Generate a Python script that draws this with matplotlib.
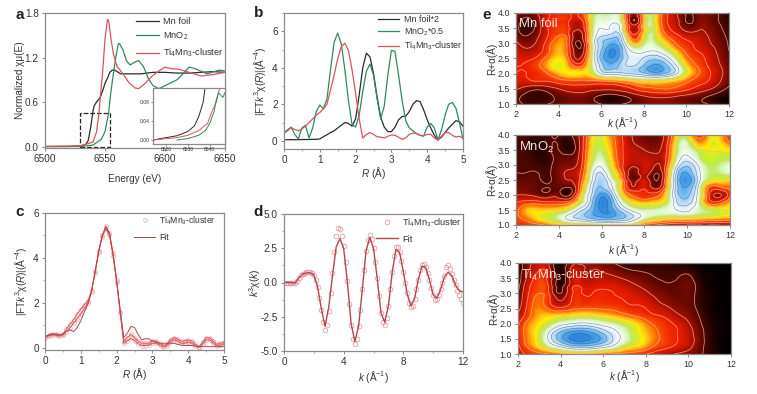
import numpy as np
import matplotlib
matplotlib.use("Agg")
import matplotlib.pyplot as plt
from matplotlib.colors import LinearSegmentedColormap
from matplotlib.patches import Rectangle
from matplotlib.ticker import MultipleLocator
from matplotlib.tri import Triangulation, UniformTriRefiner

plt.rcParams["font.family"] = ["Liberation Sans", "DejaVu Sans"]
plt.rcParams["mathtext.fontset"] = "custom"
plt.rcParams["mathtext.rm"] = "Liberation Sans"
plt.rcParams["mathtext.it"] = "Liberation Sans:italic"
plt.rcParams["mathtext.default"] = "regular"
plt.rcParams["font.size"] = 7.2

BLACK = "#2b2b2b"
GREEN = "#2f8a5c"
RED = "#d9545a"
SPINE = "#8a8a8a"
TEXT = "#333333"

# panel a
foil_e = [6500, 6520, 6530, 6534, 6536, 6538, 6540, 6541, 6543, 6546, 6548, 6550, 6552, 6554, 6556, 6558, 6560, 6563, 6570, 6580, 6590, 6600, 6610, 6620, 6630, 6640, 6650]
foil_mu = [0, 0, 0.01, 0.03, 0.08, 0.25, 0.48, 0.55, 0.60, 0.66, 0.75, 0.85, 0.92, 1.0, 1.03, 1.03, 1.01, 0.98, 0.98, 0.98, 1.0, 1.0, 0.99, 0.99, 1.0, 1.01, 1.0]
mno2_e = [6500, 6530, 6540, 6547, 6550, 6553, 6555, 6557, 6559, 6561, 6562, 6565, 6568, 6571, 6575, 6578, 6582, 6586, 6590, 6595, 6600, 6610, 6615, 6620, 6625, 6635, 6645, 6650]
mno2_mu = [0, 0, 0.02, 0.1, 0.2, 0.45, 0.75, 0.98, 1.2, 1.38, 1.39, 1.3, 1.15, 1.1, 1.14, 1.16, 1.08, 0.92, 0.82, 0.78, 0.82, 0.9, 0.98, 1.07, 1.05, 0.98, 1.03, 1.02]
ti_e = [6500, 6530, 6540, 6543, 6545, 6546, 6548, 6550, 6552, 6553, 6555, 6557, 6560, 6565, 6570, 6575, 6578, 6582, 6590, 6596, 6600, 6605, 6612, 6620, 6630, 6640, 6650]
ti_mu = [0, 0.01, 0.06, 0.2, 0.45, 0.65, 1.0, 1.45, 1.71, 1.7, 1.45, 1.25, 1.08, 0.98, 0.86, 0.79, 0.78, 0.83, 0.96, 1.03, 1.07, 1.05, 1.04, 1.0, 0.95, 0.97, 1.0]

# inset of panel a
ins_foil_e = [6514, 6520, 6525, 6530, 6533, 6535, 6537, 6538]
ins_foil_mu = [0, 0.005, 0.009, 0.018, 0.03, 0.05, 0.08, 0.115]
ins_ti_e = [6514, 6525, 6530, 6535, 6539, 6541, 6543, 6544, 6545]
ins_ti_mu = [0, 0.005, 0.01, 0.02, 0.035, 0.06, 0.08, 0.10, 0.115]
ins_mno2_e = [6525, 6530, 6535, 6538, 6540, 6542, 6543, 6544, 6545, 6546, 6547]
ins_mno2_mu = [0, 0.003, 0.01, 0.02, 0.035, 0.06, 0.085, 0.1, 0.095, 0.09, 0.1]

# panels b and c share this R grid
r_grid = np.arange(51) * 0.1
foil_ft = [.05, .06, .06, .06, .06, .07, .07, .07, .08, .08, .1, .22, .33, .45, .55, .7, .85, 1.0, .95, .8, 1.2, 2.5, 4.0, 4.8, 4.6, 3.7, 2.4, 1.3, .75, .5, .5, .75, 1.15, 1.33, 1.35, 1.6, 2.0, 2.2, 2.15, 1.7, 1.15, .7, .3, .05, .2, .45, .7, .9, 1.1, 1.05, .8]
mno2_ft = [.45, .6, .75, .35, .1, .7, .85, .15, .7, 1.6, 1.95, 1.75, 2.3, 3.9, 5.4, 5.9, 5.3, 3.9, 2.2, .9, .75, 1.4, 2.7, 3.8, 4.2, 3.6, 2.3, 1.2, 1.9, 3.6, 4.95, 4.9, 3.6, 2.2, 1.1, .7, .55, .4, .3, .25, .75, .95, .7, .05, .6, 1.4, 2.0, 2.1, 1.8, 1.0, .1]
ti_ft = [.4, .55, .72, .62, .55, .65, .8, 1.0, 1.2, 1.4, 1.55, 1.75, 2.0, 2.8, 3.6, 4.5, 5.15, 5.35, 4.95, 3.9, 2.6, 1.2, .15, .35, .45, .35, .22, .2, .15, .25, .32, .3, .2, .08, .15, .35, .42, .4, .3, .28, .35, .35, .15, .05, .25, .45, .45, .3, .2, .25, .15]

c_data = [.5, .58, .62, .62, .58, .6, .85, 1.05, 1.25, 1.5, 1.72, 1.92, 2.1, 2.55, 3.4, 4.3, 5.0, 5.4, 5.1, 4.2, 3.0, 1.6, .3, .45, .6, .45, .3, .2, .2, .2, .3, .3, .2, .1, .15, .35, .45, .4, .3, .3, .35, .3, .15, .05, .25, .45, .45, .3, .15, .2, .25]
c_band = [.45, .52, .56, .56, .52, .55, .72, .9, 1.1, 1.3, 1.5, 1.75, 2.0, 2.5, 3.35, 4.25, 4.95, 5.3, 5.0, 4.1, 2.95, 1.55, .2, .3, .42, .32, .18, .1, .1, .12, .2, .2, .12, .03, .08, .25, .35, .3, .2, .2, .25, .2, .07, .01, .15, .35, .35, .2, .07, .12, .17]
c_fit = [.5, .55, .6, .6, .55, .62, .72, .8, .72, .9, 1.2, 1.6, 1.95, 2.5, 3.4, 4.3, 5.0, 5.4, 5.1, 4.2, 3.0, 1.7, .45, .65, .95, .9, .6, .35, .4, .4, .3, .25, .2, .2, .2, .2, .2, .15, .12, .1, .1, .1, .07, .05, .05, .05, .05, .05, .05, .05, .05]

# panel d, k steps of 0.125
k_grid = np.arange(97) * 0.125
d_data = [0, 0, 0, 0, 0, 0, -.05, .1,
          .35, .55, .65, .7, .75, .8, .8, .7,
          .55, .2, -.35, -1.1, -2.0, -2.9, -3.5, -3.1,
          -2.1, -.8, .7, 2.2, 3.4, 4.0, 3.9, 3.4,
          2.7, 1.5, .1, -1.6, -3.1, -4.1, -4.5, -4.1,
          -3.2, -2.0, -.5, .9, 2.3, 3.1, 3.5, 3.2,
          2.5, 1.5, .3, -1, -2.2, -2.9, -3.1, -2.6,
          -1.7, -.5, .8, 1.9, 2.6, 2.6, 2.2, 1.6,
          .8, 0, -.8, -1.5, -1.8, -1.7, -1.2, -.5,
          .2, .9, 1.3, 1.35, 1.1, .7, .2, -.4,
          -.9, -1.25, -1.2, -.9, -.5, 0, .5, 1.1,
          1.3, 1.0, .6, .2, -.2, -.6, -.9, -1.2,
          -1.5]
d_fit_k = np.arange(49) * 0.25
d_fit = [0, 0, 0, -.05, .35, .6, .7, .72, .55, -.3, -1.9, -3.2, -1.8, .5, 2.6, 3.2, 2.5, 0, -3.0, -4.3, -3.2, -.5, 2.3, 3.3, 2.5, .3, -2.2, -2.9, -1.7, .7, 2.4, 2.2, .8, -.8, -1.7, -1.2, .2, 1.2, 1.1, .2, -.9, -1.15, -.5, .4, .75, .5, -.2, -.6, -.7]

# panel e, rows R = 1.0 to 4.0, columns k = 2 to 12
map_k = np.arange(21) * 0.5 + 2
map_r = np.arange(13) * 0.25 + 1
foil_map = [
    [1.5, .8, .8, 1, 1.2, 1.5, 1.5, 1.3, 1, .8, 1, 1.3, 1.6, 1.8, 1.8, 1.6, 1.4, 1.2, 1, .5, .2],
    [1.2, .8, .6, .8, 1.2, 1.5, 1.6, 1.3, .8, .6, .9, 1.4, 1.9, 2.2, 2.2, 2.0, 1.7, 1.4, 1.0, .6, .3],
    [2.2, 1.5, 1.2, 1.5, 2, 2.4, 2.5, 2.3, 2.2, 2.2, 2.5, 3, 3.5, 3.7, 3.8, 3.6, 3.2, 2.7, 2.2, 1.5, .8],
    [2.8, 2.8, 3, 3, 3.4, 3.6, 3.6, 3.6, 3.7, 3.9, 4.3, 4.8, 5.2, 5.2, 5, 4.6, 4, 3.4, 3, 2.2, 1.2],
    [3, 3, 3.2, 3.8, 4.6, 5, 5, 5.2, 7, 7.3, 7.5, 7.8, 8.2, 8.7, 8.3, 7.2, 5.3, 4, 3.2, 2.4, 1.4],
    [3, 3.1, 3.6, 4.6, 5.3, 4.4, 3.6, 5.6, 8, 8.8, 8, 7.7, 8.5, 9.3, 8.7, 7.2, 5, 3.8, 3, 2.2, 1.3],
    [2.8, 2.8, 3.2, 4.2, 5, 3.6, 2, 5.4, 8.6, 9.6, 8.4, 7.4, 7.8, 8.2, 7.6, 6, 4.2, 3.4, 2.8, 2, 1.1],
    [2.6, 2.2, 2.6, 3.6, 4.6, 3.2, 1.2, 5.2, 8.4, 9.8, 8.4, 6.8, 6.8, 7, 6.2, 4.8, 3.6, 3, 2.6, 1.8, 1],
    [2.2, 1.6, 2.2, 3.4, 4.4, 3, .8, 5.2, 8.2, 9, 7.8, 4.8, 5.8, 6.2, 5, 3.8, 3.2, 2.8, 2.2, 1.6, .9],
    [1.5, 1, 1.8, 3, 3.8, 3, 1.4, 5.2, 7.6, 8, 7, 3.2, 5.2, 5.8, 4, 3.2, 2.6, 2.4, 2, 1.4, .8],
    [1.2, .6, 1.4, 3, 3.4, 3, 2.2, 5.2, 7, 7.2, 6, 2.2, 4.8, 5.5, 3.4, 2.6, 1.6, 1.8, 1.8, 1.2, .7],
    [1.4, .8, 1.6, 3, 3.3, 3, 2.6, 5.2, 6.6, 6.7, 5.4, 1.0, 4.6, 5.4, 3.2, 2.4, .9, 1.4, 1.5, 1, .6],
    [1.8, 1.4, 2, 3, 3.2, 3, 3, 5.0, 6.2, 6.2, 5.2, .6, 4.4, 5.2, 3.2, 2.2, .8, 1.2, 1.4, 1, .5],
]
mno2_map = [
    [3, 3.3, 3.5, 4, 4.5, 4.8, 5, 5.2, 5.4, 5.5, 5.5, 5.3, 3.5, 3, 2.5, 2.2, 2, 2, 2, 2, 2],
    [3.6, 4.2, 5, 5.6, 6.3, 7.4, 8, 8.6, 9, 9, 8.5, 7.6, 6.5, 5.8, 5.5, 5.4, 5.4, 5.2, 5, 4.8, 4.6],
    [3.4, 4.6, 4.8, 4.8, 5, 5.8, 7.4, 8.6, 9.8, 9.2, 7.8, 6.6, 6.2, 6.2, 6.6, 7, 7.2, 6.4, 5.8, 5.4, 5.2],
    [3, 3.4, 3.4, 3.2, 3.2, 3.6, 5.6, 8, 9.9, 8.8, 6.4, 5, 4.6, 4.8, 5.6, 7.6, 8, 6.5, 3.6, 3.4, 4.6],
    [2, 2, 1.6, 1.4, 1.4, .9, 4.6, 7.6, 9.4, 8, 5, 3.6, 3.2, 3.4, 5, 8, 8.6, 6.8, 3.2, 1.8, 3.6],
    [1.4, 1.4, 1.2, 1, 1.2, 1.0, 3.6, 7.2, 8.4, 7, 4.2, 2.2, 2.8, 1.6, 4, 8, 9, 7, 3.8, 3.6, 4],
    [1.2, 1.2, 1.1, .9, 1.5, 2, 3.2, 6.6, 8.2, 6.4, 4, 1.4, 2.6, 1, 3.6, 8.2, 9.6, 7.6, 5.6, 5.2, 5],
    [1, 1, 1, .9, 1.6, 2.2, 3, 6.2, 7.6, 5.6, 3.4, 1.5, 2.6, 1.2, 3.4, 7.8, 9, 7.4, 6, 6, 6.5],
    [.9, .9, .8, .8, 1.4, 1.6, 2.6, 5.6, 6.8, 5, 3, 2.2, 2.6, 2, 3.2, 6.8, 8.2, 7, 5.8, 6, 6.5],
    [.9, .9, .6, .7, 1.2, 1.2, 2.4, 5.2, 6.2, 4.6, 3, 2.4, 2.4, 2.2, 3, 6, 7.2, 6.2, 5.4, 5.6, 5.6],
    [.8, .8, .4, .8, 1, .5, 2.2, 5, 5.8, 4.4, 3, 2.4, 2, 1.8, 2.8, 5.6, 6.6, 5.6, 5.2, 5.2, 5],
    [.8, .8, .5, .8, .9, .5, 2.2, 4.8, 5.5, 4.2, 3, 2, 1.6, 1.4, 2.6, 5.4, 6.2, 4.4, 5, 5, 3.8],
    [1, .9, .6, .9, 1, .8, 2.2, 4.6, 5.3, 4, 3, 1.8, 1.2, 1.2, 2.4, 5.2, 5.8, 3.4, 5, 5, 3],
]
ti_map = [
    [2.5, 3.2, 3.5, 3.8, 4.2, 4.6, 4.6, 4.4, 4, 3.7, 3.5, 3.3, 3, 2.6, 2.2, 1.9, 1.6, 1.2, .6, .2, .05],
    [2.8, 4, 5, 6.2, 7.2, 8, 8.2, 8, 7.4, 6.7, 5.6, 5, 4.4, 3.6, 3.2, 2.8, 2.3, 1.4, .6, .2, .05],
    [3, 4.3, 5.5, 7.4, 8.8, 9.8, 10, 9.6, 8.8, 7.6, 6.6, 5.6, 4.8, 4, 3.4, 3, 2.5, 1.5, .6, .2, .05],
    [3, 4.4, 5.4, 7, 8.3, 9, 9.2, 8.8, 8, 7.2, 6.4, 5.4, 4.6, 3.9, 3.3, 3, 2.4, 1.4, .6, .2, .05],
    [2.8, 4.2, 5, 5.7, 6.6, 7, 7.2, 7, 6.6, 6.2, 5.6, 5, 4.2, 3.6, 3.2, 2.8, 2.1, 1.2, .5, .2, .05],
    [2.2, 3.6, 4.6, 4.8, 5, 5.2, 5.4, 5.3, 5, 4.6, 4.2, 3.8, 3.4, 3.1, 2.8, 2.2, 1.7, 1, .4, .15, .05],
    [1.6, 3.4, 4.2, 3.6, 3.2, 3.6, 3.8, 3.8, 3.7, 3.6, 3.3, 3.1, 3, 2.6, 2.2, 1.7, 1.4, .8, .3, .1, .05],
    [1.2, 3.2, 4, 3, 2, 3, 3.2, 3.2, 3.2, 3.1, 3, 2.9, 2.7, 2.1, 1.7, 1.4, 1.3, .7, .3, .1, .05],
    [1, 3, 3.8, 2.8, 1, 2.8, 3, 3, 3.1, 3, 2.9, 2.6, 2.2, 1.7, 1.4, 1.2, 1.3, .7, .3, .1, .05],
    [.6, 2.8, 3.6, 2.6, .6, 2.6, 2.8, 2.7, 2.8, 2.8, 2.5, 2.1, 1.7, 1.3, 1.1, 1.2, 1.4, .7, .2, .1, .05],
    [.4, 2.4, 3.4, 2.4, .5, 2.4, 2.6, 2.4, 2.4, 2.2, 1.9, 1.6, 1.3, 1, .9, 1, 1.2, .5, .2, .1, .05],
    [.3, 2, 3, 2.2, .3, 2.2, 2.2, 2, 1.9, 1.6, 1.2, 1, .9, .8, .7, .7, .7, .3, .1, .05, .05],
    [.2, 1.8, 2.6, 2, .2, 1.8, 1.8, 1.6, 1.4, 1, .6, .6, .6, .6, .6, .4, .3, .1, .05, .05, .05],
]

W, H = 757, 394
fig = plt.figure(figsize=(W / 100, H / 100), dpi=100)


def axes_px(left, top, right, bottom):
    return fig.add_axes([left / W, 1 - bottom / H, (right - left) / W, (bottom - top) / H])


def style(ax):
    for s in ax.spines.values():
        s.set_color(SPINE)
        s.set_linewidth(0.9)
    ax.tick_params(which="major", length=2.5, width=0.7, color=SPINE, labelcolor=TEXT, pad=2)
    ax.tick_params(which="minor", length=1.5, width=0.5, color=SPINE)


def panel_letter(x, y, s):
    fig.text(x / W, 1 - y / H, s, fontsize=11, fontweight="bold", color="#222222", ha="center", va="center")


def add_legend(ax, anchor, size, spacing):
    ax.legend(loc="upper right", bbox_to_anchor=anchor, frameon=False, handlelength=2.4, handletextpad=0.5,
              labelspacing=spacing, borderaxespad=0, borderpad=0, labelcolor=TEXT, fontsize=size)


# a
ax = axes_px(45, 13, 225, 148)
style(ax)
ax.plot(foil_e, foil_mu, color=BLACK, lw=0.9, label="Mn foil")
ax.plot(mno2_e, mno2_mu, color=GREEN, lw=0.9, label="MnO$_2$")
ax.plot(ti_e, ti_mu, color=RED, lw=0.9, label="Ti$_4$Mn$_3$-cluster")
ax.add_patch(Rectangle((6529.5, 0), 24.5, 0.45, fill=False, ec="#222222", ls="--", lw=0.9))
ax.set_xlim(6500, 6650)
ax.set_ylim(-0.02, 1.8)
ax.set_xticks([6500, 6550, 6600, 6650])
ax.set_yticks([0, 0.6, 1.2, 1.8])
ax.set_yticklabels(["0.0", "0.6", "1.2", "1.8"])
ax.set_xlabel("Energy (eV)", color=TEXT, labelpad=7)
ax.set_ylabel("Normalized χμ(E)", color=TEXT, labelpad=0)
add_legend(ax, (0.995, 0.97), 6.7, 0.5)

ins = axes_px(153, 88, 225, 144)
style(ins)
ins.plot(ins_foil_e, ins_foil_mu, color=BLACK, lw=0.7)
ins.plot(ins_ti_e, ins_ti_mu, color=RED, lw=0.7)
ins.plot(ins_mno2_e, ins_mno2_mu, color=GREEN, lw=0.7)
ins.set_xlim(6514, 6547)
ins.set_ylim(-0.0085, 0.11)
ins.set_xticks([6520, 6530, 6540])
ins.set_yticks([0, 0.04, 0.08])
ins.set_yticklabels(["0.00", "0.04", "0.08"])
ins.tick_params(labelsize=3.6, length=1.5, pad=1)

# b
ax = axes_px(284, 13, 463, 149)
style(ax)
ax.plot(r_grid, foil_ft, color=BLACK, lw=0.9, label="Mn foil*2")
ax.plot(r_grid, mno2_ft, color=GREEN, lw=0.9, label="MnO$_2$*0.5")
ax.plot(r_grid, ti_ft, color=RED, lw=0.9, label="Ti$_4$Mn$_3$-cluster")
ax.set_xlim(0, 5)
ax.set_ylim(-0.45, 7)
ax.set_yticks([0, 2, 4, 6])
ax.xaxis.set_minor_locator(MultipleLocator(0.5))
ax.yaxis.set_minor_locator(MultipleLocator(1))
ax.set_xlabel("$\\mathit{R}$ (Å)", color=TEXT, labelpad=0)
ax.set_ylabel("|FT$\\mathit{k}^3\\chi$($\\mathit{R}$)|(Å$^{-4}$)", color=TEXT, labelpad=3)
add_legend(ax, (0.995, 0.985), 6.4, 0.25)

# c
ax = axes_px(45, 213, 224, 350)
style(ax)
ax.plot(r_grid, c_data, ls="none", marker="o", ms=2.6, mfc="none", mec="#e79a9c", mew=0.5, label="Ti$_4$Mn$_3$-cluster")
ax.plot(r_grid, c_band, ls="none", marker="o", ms=2.6, mfc="none", mec="#e79a9c", mew=0.5)
ax.plot(r_grid, c_band, color=RED, lw=0.7)
ax.plot(r_grid, c_data, color=RED, lw=0.7)
ax.plot(r_grid, c_fit, color="#b8444a", lw=0.7, label="Fit")
ax.set_xlim(0, 5)
ax.set_ylim(-0.1, 6)
ax.set_yticks([0, 2, 4, 6])
ax.xaxis.set_minor_locator(MultipleLocator(0.5))
ax.yaxis.set_minor_locator(MultipleLocator(1))
ax.set_xlabel("$\\mathit{R}$ (Å)", color=TEXT, labelpad=0)
ax.set_ylabel("|FT$\\mathit{k}^3\\chi$($\\mathit{R}$)|(Å$^{-4}$)", color=TEXT, labelpad=3)
add_legend(ax, (0.955, 0.99), 6.2, 0.7)

# d
ax = axes_px(284, 214, 463, 351)
style(ax)
ax.plot(k_grid, d_data, ls="none", marker="o", ms=3.4, mfc="none", mec="#e08f92", mew=0.5, label="Ti$_4$Mn$_3$-cluster")
ax.plot(d_fit_k, d_fit, color="#b8444a", lw=1.0, label="Fit")
ax.set_xlim(0, 12)
ax.set_ylim(-5, 5)
ax.set_xticks([0, 4, 8, 12])
ax.set_yticks([-5, -2.5, 0, 2.5, 5])
ax.set_yticklabels(["-5.0", "-2.5", "0.0", "2.5", "5.0"])
ax.xaxis.set_minor_locator(MultipleLocator(2))
ax.yaxis.set_minor_locator(MultipleLocator(1.25))
ax.set_xlabel("$\\mathit{k}$ (Å$^{-1}$)", color=TEXT, labelpad=1)
ax.set_ylabel("$\\mathit{k}^3\\chi$($\\mathit{k}$)", color=TEXT, labelpad=-2)
add_legend(ax, (0.995, 0.985), 6.6, 0.65)

# e
wavelet = LinearSegmentedColormap.from_list("wavelet", [
    (0.0, "#000000"), (0.15, "#7a0a00"), (0.3, "#ee1c00"), (0.4, "#ff6a00"), (0.5, "#ffee00"),
    (0.57, "#b5f040"), (0.63, "#d8f8c0"), (0.7, "#ffffff"), (0.8, "#bfe0f8"), (0.9, "#5ab0f0"), (1.0, "#2a86e0"),
])
low_levels = [1, 2, 3, 3.8, 4.6, 5.3, 5.9]
high_levels = [7, 7.7, 8.4, 9.1, 9.7]
panels = [
    (foil_map, "Mn foil", (516, 13, 729, 104), -4),
    (mno2_map, "MnO$_2$", (516, 135, 730, 225), 0),
    (ti_map, "Ti$_4$Mn$_3$-cluster", (518, 263, 731, 354), -2),
]
kk, rr = np.meshgrid(map_k, map_r)
tri = Triangulation(kk.ravel(), rr.ravel())
refiner = UniformTriRefiner(tri)
for grid, name, box, xpad in panels:
    ax = axes_px(*box)
    style(ax)
    tri_fine, z_fine = refiner.refine_field(np.array(grid).ravel(), subdiv=3)
    ax.tripcolor(tri_fine, z_fine, shading="gouraud", cmap=wavelet, vmin=0, vmax=10)
    ax.tricontour(tri_fine, z_fine, levels=low_levels, colors="#ffb58c", linewidths=0.6, alpha=0.75)
    ax.tricontour(tri_fine, z_fine, levels=high_levels, colors="#35507f", linewidths=0.4, alpha=0.7)
    ax.set_xlim(2, 12)
    ax.set_ylim(1, 4)
    ax.set_xticks([2, 4, 6, 8, 10, 12])
    ax.set_yticks([1, 1.5, 2, 2.5, 3, 3.5, 4])
    ax.set_yticklabels(["1.0", "1.5", "2.0", "2.5", "3.0", "3.5", "4.0"])
    ax.tick_params(labelsize=6.4)
    ax.set_xlabel("$\\mathit{k}$ (Å$^{-1}$)", color=TEXT, fontsize=7.2, labelpad=xpad + 1)
    ax.set_ylabel("R+α(Å)", color=TEXT, fontsize=7.2, labelpad=0)
    ax.text(0.012, 0.95, name, transform=ax.transAxes, color="#f4e4e0", fontsize=9.4, ha="left", va="top")

panel_letter(20, 15, "a")
panel_letter(259, 13, "b")
panel_letter(20, 212, "c")
panel_letter(258, 212, "d")
panel_letter(487, 15, "e")

fig.savefig("out.png", dpi=100)
